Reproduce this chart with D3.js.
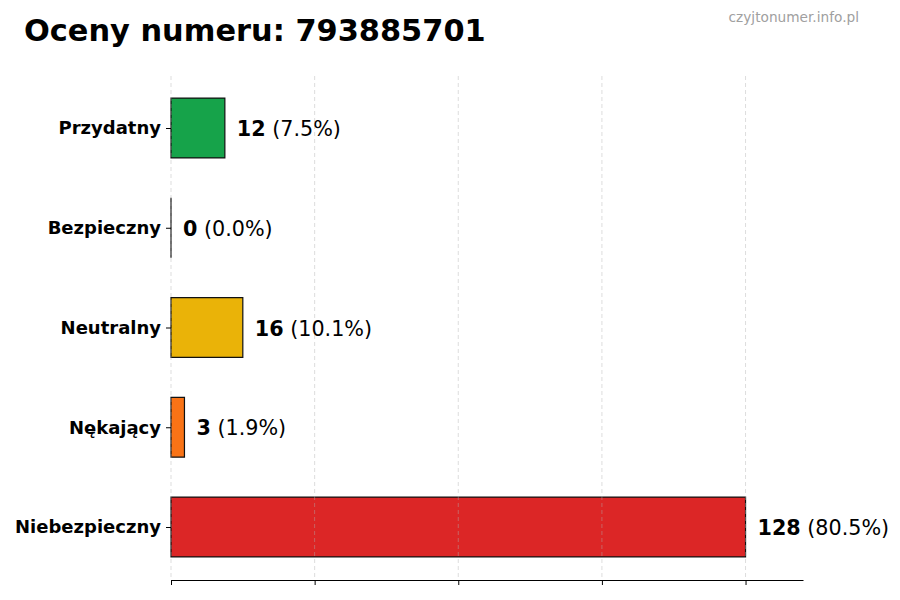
<!DOCTYPE html>
<html>
<head>
<meta charset="utf-8">
<script src="https://cdn.jsdelivr.net/npm/d3@7"></script>
<style>
  body { margin: 0; background: #fff; }
  text { font-family: "DejaVu Sans", sans-serif; }
</style>
</head>
<body>
<div id="chart"></div>
<script>
// dane
const categories = ["Przydatny", "Bezpieczny", "Neutralny", "Nękający", "Niebezpieczny"];
const counts = [12, 0, 16, 3, 128];
const percents = ["7.5%", "0.0%", "10.1%", "1.9%", "80.5%"];
const colors = ["#16a34a", "#9ca3af", "#eab308", "#f97316", "#dc2626"];
const xTicks = [0, 32, 64, 96, 128];

const W = 900, H = 600;
const plotLeft = 171, plotRight = 803, plotTop = 76, plotBottom = 580;

const svg = d3.select("#chart").append("svg")
    .attr("width", W)
    .attr("height", H);

const x = d3.scaleLinear()
    .domain([0, d3.max(counts) * 1.1])
    .range([plotLeft, plotRight]);

const y = d3.scalePoint()
    .domain(categories)
    .range([128, 527]);

const barH = y.step() * 0.6;

// slupki (path, zeby slupek 0 tez mial obrys)
svg.append("g")
    .selectAll("path")
    .data(categories)
    .enter()
    .append("path")
    .attr("d", (d, i) => {
        const x0 = x(0), w = x(counts[i]) - x(0), y0 = y(d) - barH / 2;
        return "M" + x0 + "," + y0 + "h" + w + "v" + barH + "h" + (-w) + "Z";
    })
    .attr("fill", (d, i) => colors[i])
    .attr("stroke", "#111")
    .attr("stroke-width", 1.2);

// siatka (nad slupkami, polprzezroczysta)
svg.append("g")
    .selectAll("line")
    .data(xTicks)
    .enter()
    .append("line")
    .attr("x1", d => x(d)).attr("x2", d => x(d))
    .attr("y1", plotTop).attr("y2", plotBottom)
    .attr("stroke", "#b0b0b0")
    .attr("stroke-opacity", 0.55)
    .attr("stroke-width", 0.8)
    .attr("stroke-dasharray", "4,3");

// os x (bez etykiet)
const xAxis = svg.append("g")
    .attr("transform", "translate(0," + plotBottom + ")")
    .call(d3.axisBottom(x).tickValues(xTicks).tickFormat("").tickSize(5).tickSizeOuter(0));
xAxis.select(".domain").attr("stroke", "#000").attr("stroke-width", 1);
xAxis.selectAll(".tick line").attr("stroke", "#000");

// os y
const yAxis = svg.append("g")
    .attr("transform", "translate(" + plotLeft + ",0)")
    .call(d3.axisLeft(y).tickSize(5).tickPadding(5));
yAxis.select(".domain").remove();
yAxis.selectAll(".tick line").attr("stroke", "#000");
yAxis.selectAll(".tick text")
    .attr("font-family", "DejaVu Sans")
    .attr("font-size", 18)
    .attr("font-weight", "bold")
    .attr("fill", "#000");

// etykiety wartosci
const lab = svg.append("g")
    .selectAll("text")
    .data(categories)
    .enter()
    .append("text")
    .attr("x", (d, i) => x(counts[i]) + 12)
    .attr("y", d => y(d) + 1)
    .attr("dy", "0.35em")
    .attr("font-size", 20.7)
    .attr("fill", "#000");
lab.append("tspan")
    .attr("font-weight", "bold")
    .text((d, i) => counts[i]);
lab.append("tspan")
    .text((d, i) => " (" + percents[i] + ")");

// tytul
svg.append("text")
    .attr("x", 24)
    .attr("y", 41)
    .attr("font-size", 30.4)
    .attr("font-weight", "bold")
    .attr("fill", "#000")
    .text("Oceny numeru: 793885701");

svg.append("text")
    .attr("x", 859)
    .attr("y", 22)
    .attr("text-anchor", "end")
    .attr("font-size", 13.7)
    .attr("fill", "#a0a0a0")
    .text("czyjtonumer.info.pl");
</script>
</body>
</html>
